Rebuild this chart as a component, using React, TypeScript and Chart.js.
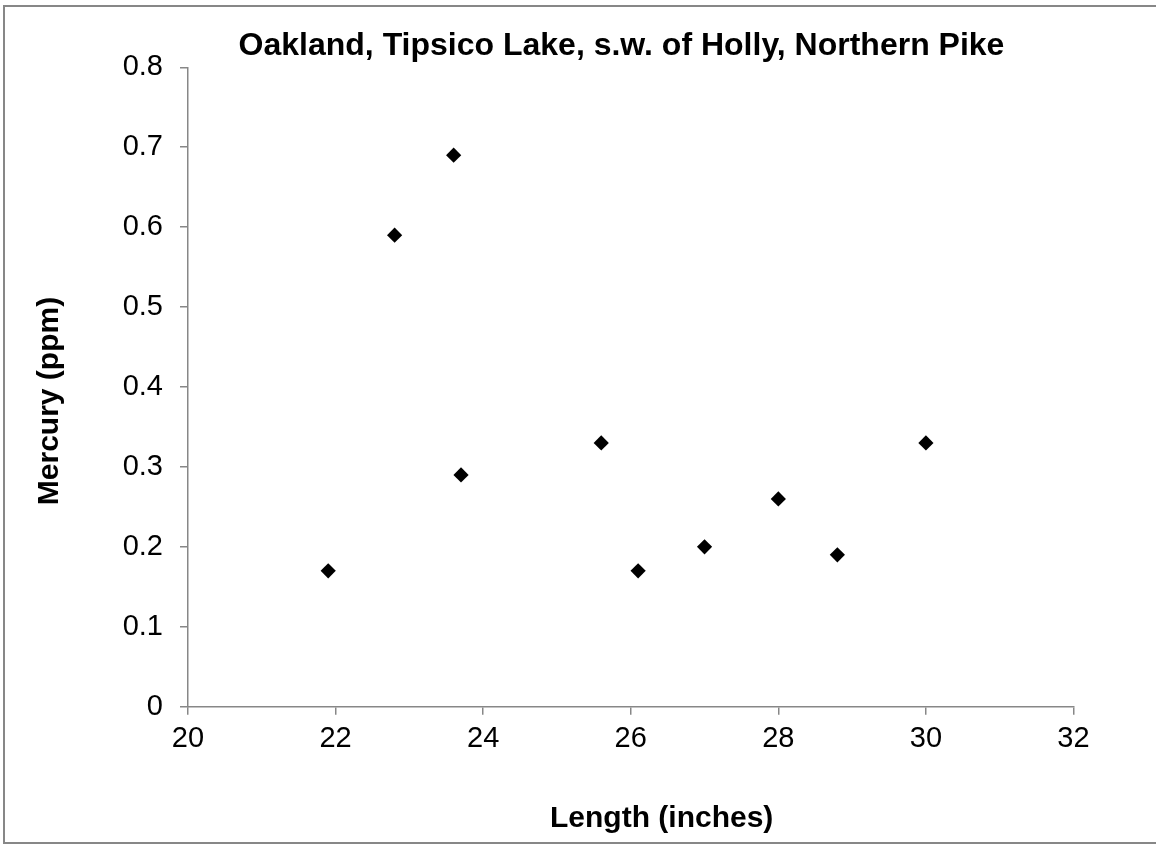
import React, { useEffect, useRef } from "react";
import { Chart, registerables } from "chart.js";

Chart.register(...registerables);

const chartTitle = "Oakland, Tipsico Lake, s.w. of Holly, Northern Pike";
const xAxisTitle = "Length (inches)";
const yAxisTitle = "Mercury (ppm)";

const lengths = [21.9, 22.8, 23.6, 23.7, 25.6, 26.1, 27.0, 28.0, 28.8, 30.0];
const mercury = [0.17, 0.59, 0.69, 0.29, 0.33, 0.17, 0.2, 0.26, 0.19, 0.33];

const xMin = 20;
const xMax = 32;
const xStep = 2;
const yMin = 0;
const yMax = 0.8;
const yStep = 0.1;

const AXIS_COLOR = "#878787";
const FONT = "Arial, 'Liberation Sans', sans-serif";

const titlesPlugin = {
  id: "titlesPlugin",
  afterDraw(chart: any) {
    const ctx = chart.ctx;
    ctx.save();
    ctx.fillStyle = "#000";
    ctx.textAlign = "center";
    ctx.textBaseline = "middle";
    ctx.font = `bold 32px ${FONT}`;
    ctx.fillText(chartTitle, 621.5, 46);
    ctx.font = `bold 30px ${FONT}`;
    ctx.fillText(xAxisTitle, 661.7, 819);
    ctx.translate(50, 401);
    ctx.rotate(-Math.PI / 2);
    ctx.fillText(yAxisTitle, 0, 0);
    ctx.restore();
  },
};

export default function App() {
  const ref = useRef<HTMLCanvasElement | null>(null);

  useEffect(() => {
    if (!ref.current) return;
    const points = lengths.map((x, i) => ({ x, y: mercury[i] }));
    const chart = new Chart(ref.current, {
      type: "scatter",
      data: {
        datasets: [
          {
            data: points,
            pointStyle: "rectRot",
            pointRadius: 7.6,
            backgroundColor: "#000",
            borderColor: "#000",
            borderWidth: 0,
          },
        ],
      },
      options: {
        animation: false,
        responsive: false,
        devicePixelRatio: 1,
        layout: { padding: { left: 0, right: 82.5, top: 67.3, bottom: 0 } },
        plugins: {
          legend: { display: false },
          tooltip: { enabled: false },
          title: { display: false },
        },
        scales: {
          x: {
            type: "linear",
            min: xMin,
            max: xMax,
            ticks: {
              stepSize: xStep,
              color: "#000",
              font: { family: FONT, size: 29 },
              padding: 7,
            },
            grid: {
              drawOnChartArea: false,
              drawTicks: true,
              tickLength: 8,
              color: AXIS_COLOR,
              lineWidth: 1.5,
            },
            border: { display: true, color: AXIS_COLOR, width: 1.5 },
            afterFit(scale: any) {
              scale.height = 137.3;
            },
          },
          y: {
            type: "linear",
            min: yMin,
            max: yMax,
            ticks: {
              stepSize: yStep,
              color: "#000",
              font: { family: FONT, size: 29 },
              padding: 17,
              callback: (v: any) => String(Number(Number(v).toFixed(1))),
            },
            grid: {
              drawOnChartArea: false,
              drawTicks: true,
              tickLength: 8,
              color: AXIS_COLOR,
              lineWidth: 1.5,
            },
            border: { display: true, color: AXIS_COLOR, width: 1.5 },
            afterFit(scale: any) {
              scale.width = 188;
            },
          },
        },
      },
      plugins: [titlesPlugin],
    });
    return () => chart.destroy();
  }, []);

  return (
    <div
      style={{
        position: "fixed",
        left: 0,
        top: 0,
        width: 1156,
        height: 844,
        overflow: "hidden",
        background: "#fff",
      }}
    >
      <canvas ref={ref} width={1156} height={844} style={{ position: "absolute", left: 0, top: 0 }} />
      <div
        style={{
          position: "absolute",
          left: 3,
          top: 5,
          width: 1200,
          height: 839,
          boxSizing: "border-box",
          border: `2px solid ${AXIS_COLOR}`,
          pointerEvents: "none",
        }}
      />
    </div>
  );
}
